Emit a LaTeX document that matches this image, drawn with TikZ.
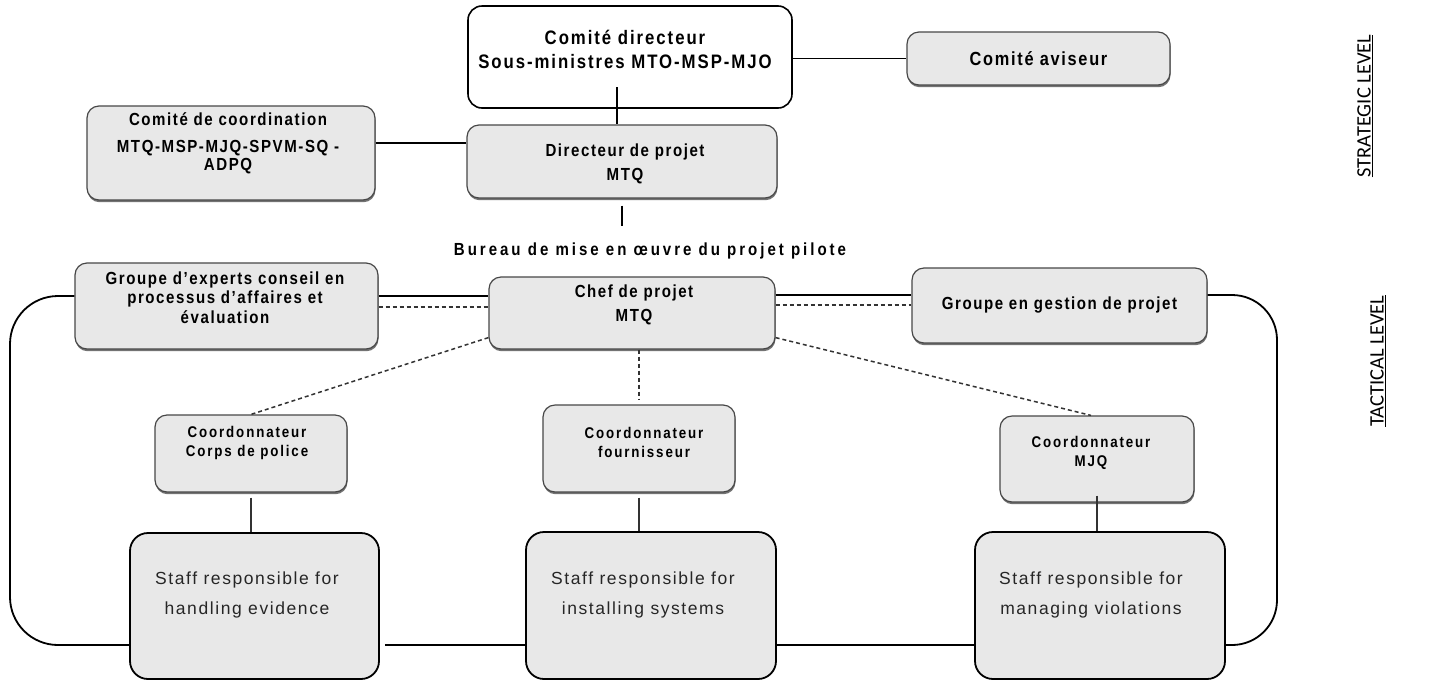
\documentclass[tikz,border=0pt]{standalone}
\usepackage{fontspec}
\setmainfont{Liberation Sans}
\newfontfamily\boxfont[FakeStretch=0.86,LetterSpace=9]{Liberation Sans}
\newfontfamily\topfont[FakeStretch=0.86,LetterSpace=10]{Liberation Sans}
\newfontfamily\coordfont[FakeStretch=0.86,LetterSpace=12]{Liberation Sans}
\newfontfamily\bureaufont[FakeStretch=0.86,LetterSpace=17]{Liberation Sans}
\newfontfamily\stafffont[LetterSpace=9]{Liberation Sans}
\newfontfamily\levelfont{Carlito}
\usetikzlibrary{shadows}

\begin{document}
\begin{tikzpicture}[x=1pt,y=-1pt,
	orgbox/.style={draw=black!72,fill=gray!18,rounded corners=12pt,line width=1.2pt,inner sep=0pt,
		drop shadow={shadow xshift=0.5pt,shadow yshift=-2.2pt,fill=black!55,opacity=1}},
	staffbox/.style={draw=black,fill=gray!18,rounded corners=18pt,line width=1.8pt,inner sep=0pt},
	boxtext/.style={align=center,font=\boxfont\bfseries\fontsize{17.5}{24}\selectfont},
	coordtext/.style={align=center,font=\coordfont\bfseries\fontsize{15.5}{19}\selectfont},
	stafftext/.style={align=center,text=black!85,font=\stafffont\fontsize{17.5}{30}\selectfont},
	sidelabel/.style={rotate=90,font=\levelfont\fontsize{20.5}{24}\selectfont},
	link/.style={line width=1.5pt},
	stem/.style={line width=2.4pt,black!80},
	ring/.style={line width=1.8pt},
	dline/.style={line width=1.5pt,black!80,dash pattern=on 4pt off 3pt}]
	\useasboundingbox (0,0) rectangle (1447,681);

	% strategic level
	\node[draw=black,fill=white,rounded corners=14pt,line width=1.6pt,minimum width=324pt,minimum height=102pt] (dir) at (630,57) {};
	\node[boxtext,font=\topfont\bfseries\fontsize{19.5}{24}\selectfont] (dirtext) at (625,49) {Comité directeur\\Sous-ministres MTO-MSP-MJO};
	\node[orgbox,minimum width=263pt,minimum height=53pt,font=\boxfont\bfseries\fontsize{19}{20}\selectfont] (avis) at (1038.5,58.5) {Comité aviseur};
	\node[orgbox,minimum width=288pt,minimum height=94pt] (coord) at (231,153) {};
	\node[boxtext,font=\boxfont\bfseries\fontsize{17.5}{18}\selectfont] (coordtxt) at (228,143) {Comité de coordination\\[9pt]MTQ-MSP-MJQ-SPVM-SQ -\\ADPQ};
	\node[orgbox,minimum width=310pt,minimum height=73pt] (proj) at (622,161.5) {};
	\node[boxtext] (projtext) at (625,164) {Directeur de projet\\MTQ};
	\node[font=\bureaufont\bfseries\fontsize{17.5}{19}\selectfont] (bureau) at (650,251) {Bureau de mise en œuvre du projet pilote};

	% tactical level
	\node[orgbox,minimum width=303pt,minimum height=86pt] (expert) at (226.5,306) {};
	\node[boxtext,font=\boxfont\bfseries\fontsize{17.5}{19.5}\selectfont] (experttext) at (225,297.5) {Groupe d’experts conseil en\\processus d’affaires et\\évaluation};
	\node[orgbox,minimum width=286pt,minimum height=72pt] (chef) at (632,313) {};
	\node[boxtext] (cheftext) at (634,305) {Chef de projet\\MTQ};
	\node[orgbox,minimum width=295pt,minimum height=75pt,font=\boxfont\bfseries\fontsize{17.5}{19}\selectfont] (gest) at (1059.5,305.5) {Groupe en gestion de projet};

	\node[orgbox,minimum width=192pt,minimum height=77pt] (police) at (251,453.5) {};
	\node[coordtext] (policetext) at (247,442.5) {Coordonnateur\\Corps de police};
	\node[orgbox,minimum width=192pt,minimum height=87pt] (fourn) at (639,448.5) {};
	\node[coordtext] (fourntext) at (644,442.5) {Coordonnateur\\fournisseur};
	\node[orgbox,minimum width=194pt,minimum height=86pt] (mjq) at (1097,459) {};
	\node[coordtext] (mjqtext) at (1091,452.5) {Coordonnateur\\MJQ};

	\node[staffbox,minimum width=249pt,minimum height=146pt] (staff1) at (254.5,606) {};
	\node[stafftext] (staff1text) at (247,595) {Staff responsible for\\handling evidence};
	\node[staffbox,minimum width=250pt,minimum height=147pt] (staff2) at (651,605.5) {};
	\node[stafftext] (staff2text) at (643,595) {Staff responsible for\\installing systems};
	\node[staffbox,minimum width=250pt,minimum height=147pt] (staff3) at (1100,605.5) {};
	\node[stafftext] (staff3text) at (1091,595) {Staff responsible for\\managing violations};

	\node[sidelabel] (strategic) at (1365,106) {\underline{STRATEGIC LEVEL}};
	\node[sidelabel] (tactical) at (1378,361) {\underline{TACTICAL LEVEL}};

	% connectors
	\coordinate (dirfoot) at (617,87);
	\coordinate (bottom) at (0,645);
	\draw[link] (avis.west -| dir.east) -- (avis.west);
	\draw[link] (dirfoot) -- (dirfoot |- proj.north);
	\draw[link] (coord.east |- 0,143) -- (proj.west |- 0,143);
	\draw[link] ([yshift=-7pt]proj.south) -- ([yshift=-27pt]proj.south);

	\draw[link] (expert.east |- 0,296) -- (chef.west |- 0,296);
	\draw[dline] (expert.east |- 0,307) -- (chef.west |- 0,307);
	\draw[link] (chef.east |- 0,295) -- (gest.west |- 0,295);
	\draw[dline] (chef.east |- 0,305) -- (gest.west |- 0,305);
	\draw[dline] ([yshift=12pt]chef.south west) -- (police.north);
	\draw[dline] (chef.south -| fourn.north) -- ([yshift=4pt]fourn.north);
	\draw[dline] ([yshift=12pt]chef.south east) -- ([xshift=-6pt]mjq.north);

	\draw[stem] ([yshift=-5pt]police.south) -- (police.south |- staff1.north);
	\draw[stem] ([yshift=-5pt]fourn.south) -- (fourn.south |- staff2.north);
	\draw[stem] ([yshift=7pt]mjq.south) -- (mjq.south |- staff3.north);

	\draw[link] (staff1.east |- bottom) ++(5,0) -- (staff2.west |- bottom);
	\draw[link] (staff2.east |- bottom) -- (staff3.west |- bottom);
	\draw[ring,rounded corners=48pt] (expert.west |- 0,296) -| (10,645) -- (staff1.west |- bottom);
	\draw[ring,rounded corners=45pt] (gest.east |- 0,295) -| (1277,645) -- (staff3.east |- bottom);
\end{tikzpicture}
\end{document}
